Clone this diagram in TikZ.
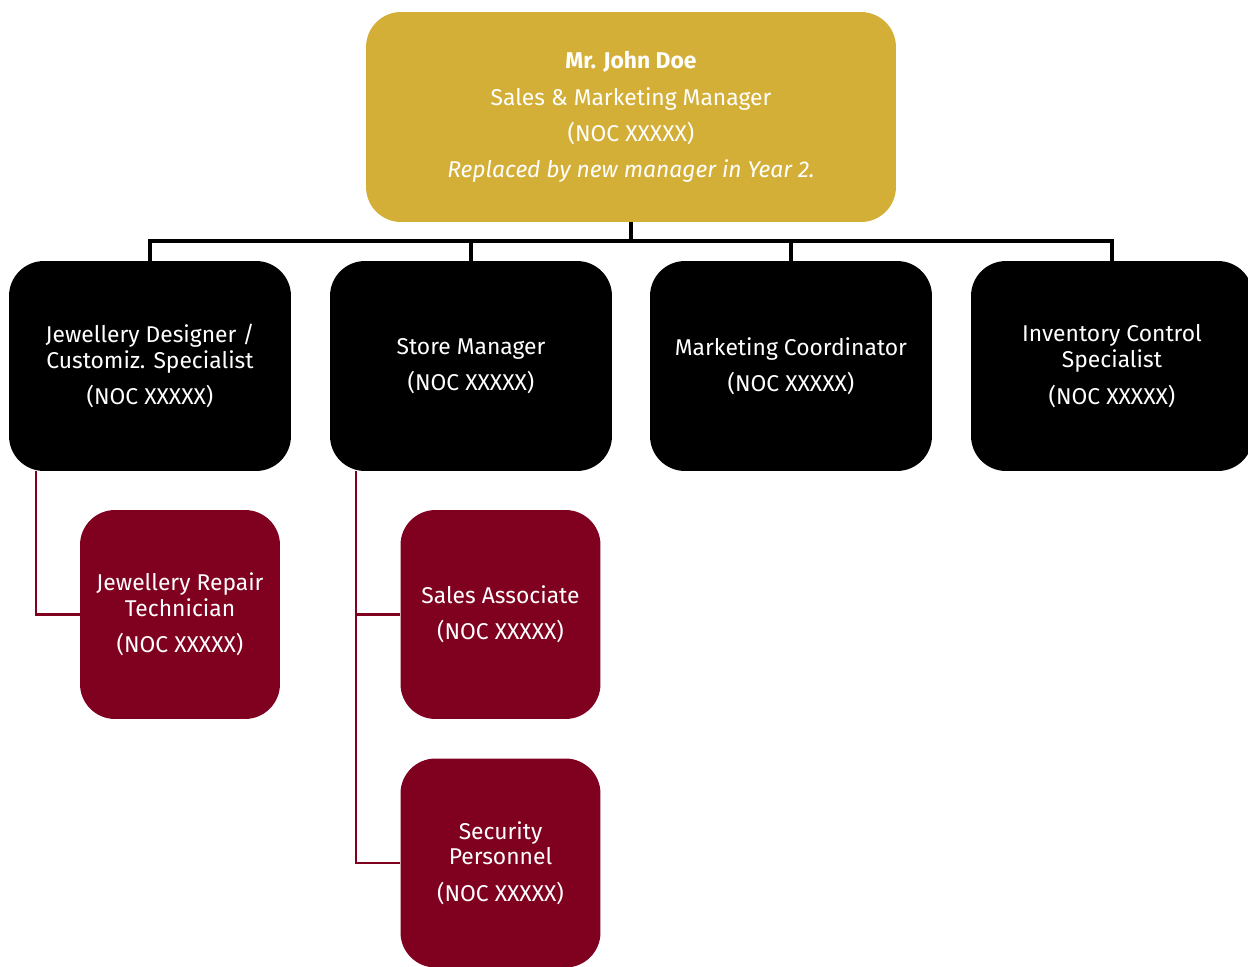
\documentclass[tikz,border=0pt]{standalone}
\usepackage{fontspec}
\setmainfont{Fira Sans}
\definecolor{gold}{RGB}{212,175,55}
\definecolor{maroonc}{RGB}{128,0,32}
\begin{document}
\begin{tikzpicture}[x=0.02cm,y=-0.02cm,
 box/.style={rounded corners=0.7cm, text=white, align=center, inner sep=0pt, font=\fontsize{13}{14.7}\selectfont},
 topbox/.style={box, fill=gold, minimum width=10.6cm, minimum height=4.2cm, font=\fontsize{13}{20.7}\selectfont},
 blackbox/.style={box, fill=black, minimum width=5.64cm, minimum height=4.2cm},
 redbox/.style={box, fill=maroonc, minimum width=4cm, minimum height=4.18cm},
 bline/.style={line width=1.9pt, black},
 rline/.style={line width=1.2pt, maroonc}]
\useasboundingbox (0,0) rectangle (1248,967);
\node[topbox] (top) at (631,117) {\textbf{Mr. John Doe}\\Sales \& Marketing Manager\\(NOC XXXXX)\\\textit{Replaced by new manager in Year 2.}};
\node[blackbox] (b1) at (150,366) {Jewellery Designer /\\Customiz. Specialist\\[6pt](NOC XXXXX)};
\node[blackbox] (b2) at (471,366) {Store Manager\\[6pt](NOC XXXXX)};
\node[blackbox] (b3) at (791,366) {Marketing Coordinator\\[6pt](NOC XXXXX)};
\node[blackbox] (b4) at (1112,366) {Inventory Control\\Specialist\\[6pt](NOC XXXXX)};
\node[redbox] (r1) at (180,614.5) {Jewellery Repair\\Technician\\[6pt](NOC XXXXX)};
\node[redbox] (r2) at (500.5,614.5) {Sales Associate\\[6pt](NOC XXXXX)};
\node[redbox] (r3) at (500.5,863) {Security\\Personnel\\[6pt](NOC XXXXX)};
\coordinate (bus) at (631,241);
\draw[bline] (top.south) -- (bus);
\draw[bline] (b1.north) -- (b1.north |- bus) -- (b4.north |- bus) -- (b4.north);
\draw[bline] (b2.north) -- (b2.north |- bus);
\draw[bline] (b3.north) -- (b3.north |- bus);
\coordinate (s1) at ([xshift=0.54cm]b1.south west);
\coordinate (s2) at ([xshift=0.52cm]b2.south west);
\draw[rline] (s1) |- (r1.west);
\draw[rline] (s2) |- (r2.west);
\draw[rline] (s2) |- (r3.west);
\end{tikzpicture}
\end{document}
